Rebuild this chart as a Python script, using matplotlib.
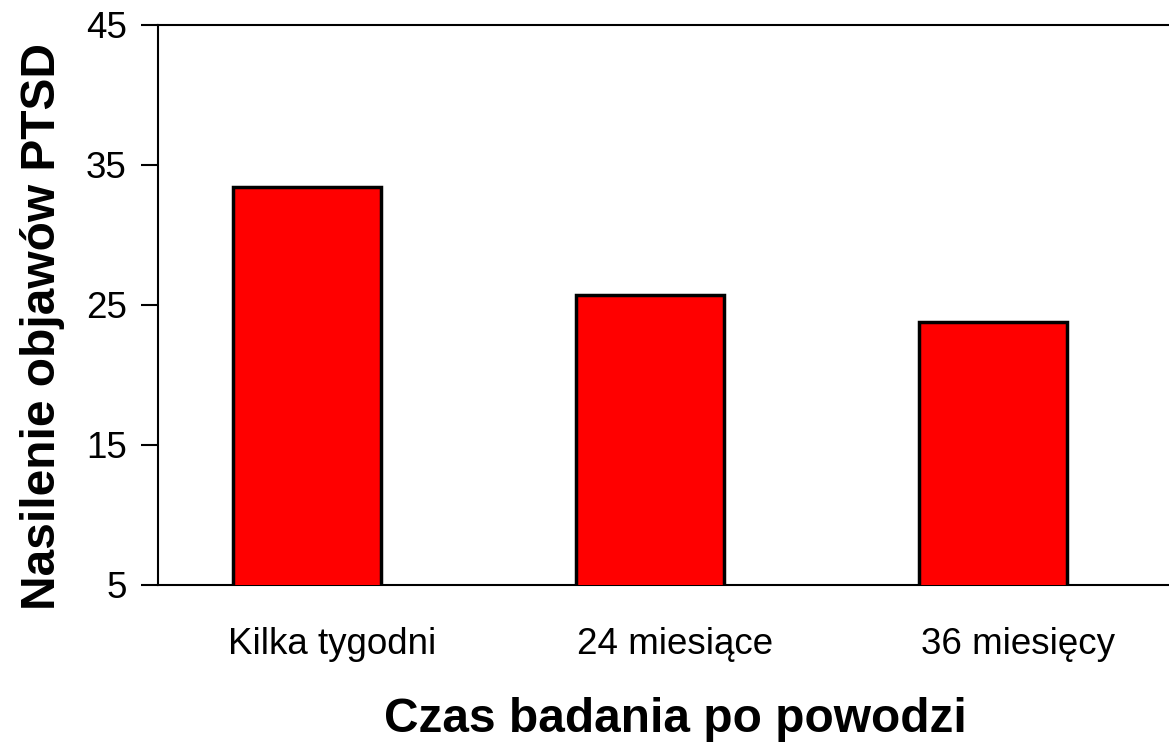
import matplotlib
matplotlib.use("Agg")
import matplotlib.pyplot as plt
from matplotlib.transforms import ScaledTranslation

categories = ["Kilka tygodni", "24 miesiące", "36 miesięcy"]
values = [33.4, 25.7, 23.8]
yticks = [5, 15, 25, 35, 45]

plt.rcParams['font.family'] = ['Liberation Sans', 'DejaVu Sans']

fig = plt.figure(figsize=(11.69, 7.43), dpi=100)
W, H = 1169, 743
left, right, top, bottom = 158, 1169, 25, 585
ax = fig.add_axes([left / W, 1 - bottom / H, (right - left) / W, (bottom - top) / H])

x = list(range(len(categories)))
ax.bar(x, values, width=0.43, bottom=0, color="#ff0000", edgecolor="black", linewidth=2.5, zorder=3)

ax.set_ylim(5, 45)
ax.set_xlim(-0.434, 2.513)
ax.set_yticks(yticks)
ax.set_yticklabels([str(t) for t in yticks], fontsize=26.5)
ax.set_xticks(x)
ax.set_xticklabels(categories, fontsize=26.5)
ax.tick_params(axis='x', length=0, pad=30)
ax.tick_params(axis='y', length=12, width=1.5, pad=10.5)
offset = ScaledTranslation(0.25, 0, fig.dpi_scale_trans)
for lab in ax.get_xticklabels():
    lab.set_transform(lab.get_transform() + offset)

for s in ["left", "bottom", "top"]:
    ax.spines[s].set_linewidth(1.5)
ax.spines["right"].set_visible(False)

ax.set_xlabel("Czas badania po powodzi", fontsize=34.5, fontweight="bold")
ax.set_ylabel("Nasilenie objawów PTSD", fontsize=34.5, fontweight="bold")
ax.xaxis.set_label_coords((675 - left) / (right - left), -(719 - bottom) / (bottom - top), transform=ax.transAxes)
ax.yaxis.set_label_coords(-(158 - 43) / (right - left), (bottom - 326) / (bottom - top), transform=ax.transAxes)
ax.xaxis.label.set_va("center")
ax.yaxis.label.set_va("center")

fig.savefig("out.png", dpi=100)
